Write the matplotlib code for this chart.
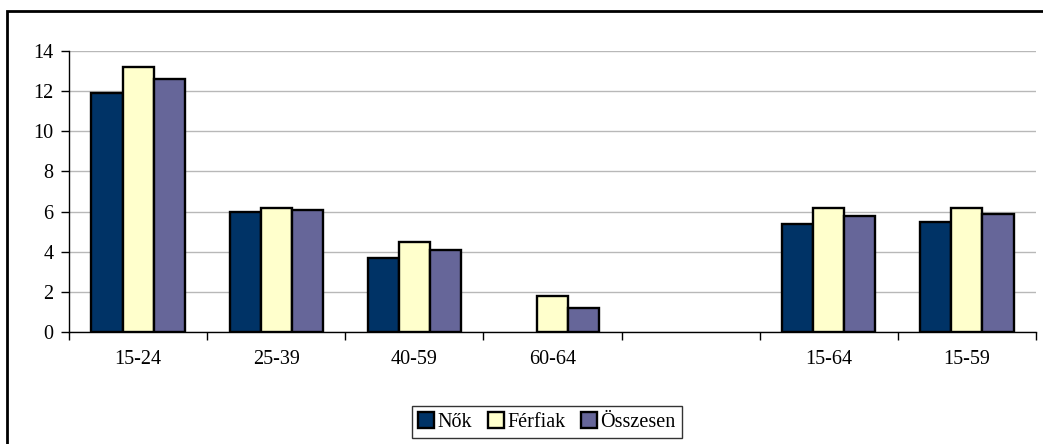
import numpy as np
import matplotlib.pyplot as plt
from matplotlib.patches import Rectangle

plt.rcParams['font.family'] = ['Liberation Serif', 'DejaVu Serif']

categories = ['15-24', '25-39', '40-59', '60-64', '', '15-64', '15-59']
nok = [11.9, 6.0, 3.7, np.nan, np.nan, 5.4, 5.5]
ferfiak = [13.2, 6.2, 4.5, 1.8, np.nan, 6.2, 6.2]
osszesen = [12.6, 6.1, 4.1, 1.2, np.nan, 5.8, 5.9]

series = [
    ('Nők', nok, '#003366'),
    ('Férfiak', ferfiak, '#FFFFCC'),
    ('Összesen', osszesen, '#666699'),
]

W, H = 1043, 444
fig = plt.figure(figsize=(W / 100, H / 100), dpi=100)
fig.patch.set_facecolor('white')

# axes placed in pixel terms
left, right, top, bottom = 69, 1036, 51, 332
ax = fig.add_axes([left / W, 1 - bottom / H, (right - left) / W, (bottom - top) / H])

x = np.arange(len(categories))
width = 0.225
for i, (name, vals, color) in enumerate(series):
    ax.bar(x + (i - 1) * width, vals, width, color=color, edgecolor='black',
           linewidth=1.7, label=name, zorder=3)

ax.set_xlim(-0.5, len(categories) - 0.5)
ax.set_ylim(0, 14)
ax.set_yticks(range(0, 15, 2))
ax.yaxis.grid(True, color='#b8b8b8', linewidth=1.0, zorder=0)

ax.set_xticks(x)
ax.set_xticklabels(categories)
ax.set_xticks(np.arange(len(categories) + 1) - 0.5, minor=True)
ax.tick_params(axis='x', which='major', length=0, pad=13, labelsize=14.5)
ax.tick_params(axis='x', which='minor', length=6, width=1, direction='out')
ax.tick_params(axis='y', length=6, width=1, direction='out', pad=5, labelsize=14.5)

for side in ['top', 'right']:
    ax.spines[side].set_visible(False)
for side in ['left', 'bottom']:
    ax.spines[side].set_linewidth(1.0)
    ax.spines[side].set_zorder(4)

leg = ax.legend(loc='center', bbox_to_anchor=((547 - left) / (right - left), -(422 - bottom) / (bottom - top)),
                ncol=3, frameon=True, fancybox=False, edgecolor='black', fontsize=14.5,
                handlelength=0.8, handleheight=0.8, handletextpad=0.15, columnspacing=0.8,
                borderpad=0.3, borderaxespad=0)
leg.get_frame().set_linewidth(1.0)
for h in leg.legend_handles:
    h.set_linewidth(1.7)

# outer chart frame
fig.patches.append(Rectangle((7 / W, -0.1), 1.2, 1 - 11.5 / H + 0.1, transform=fig.transFigure,
                             fill=False, edgecolor='black', linewidth=2.0))

fig.savefig('out.png', dpi=100)
